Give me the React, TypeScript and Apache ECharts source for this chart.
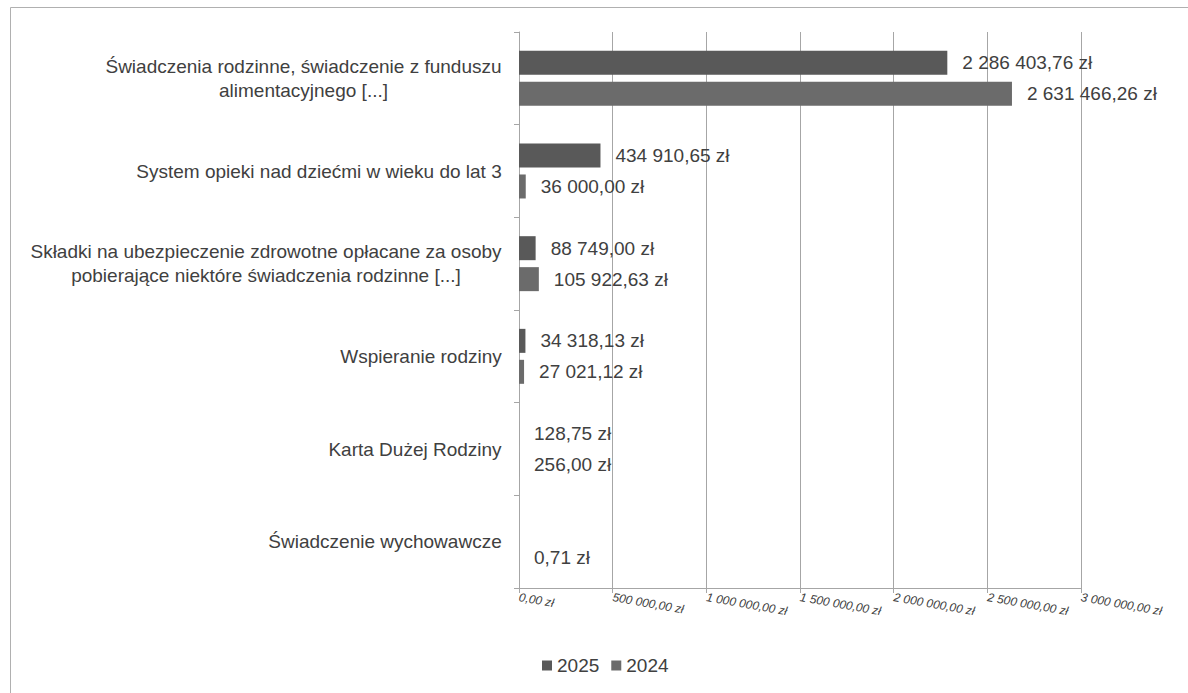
import React, { useEffect, useRef } from "react";
import * as echarts from "echarts";

const categories = [
  "Świadczenia rodzinne, świadczenie z funduszu\nalimentacyjnego [...]",
  "System opieki nad dziećmi w wieku do lat 3",
  "Składki na ubezpieczenie zdrowotne opłacane za osoby\npobierające niektóre świadczenia rodzinne [...]",
  "Wspieranie rodziny",
  "Karta Dużej Rodziny",
  "Świadczenie wychowawcze",
];
const values2025: (number | null)[] = [2286403.76, 434910.65, 88749.0, 34318.13, 128.75, null];
const values2024: (number | null)[] = [2631466.26, 36000.0, 105922.63, 27021.12, 256.0, 0.71];
const seriesNames = ["2025", "2024"];
const axisMin = 0;
const axisMax = 3000000;
const axisInterval = 500000;

function formatPLN(v: number): string {
  const fixed = Math.abs(v).toFixed(2);
  const [intPart, dec] = fixed.split(".");
  const withSep = intPart.replace(/\B(?=(\d{3})+(?!\d))/g, " ");
  return (v < 0 ? "-" : "") + withSep + "," + dec + " zł";
}

const FONT = "'Liberation Sans', Arial, Helvetica, sans-serif";
const TEXT = "#404040";
const GRID = "#a6a6a6";
const FS = 19;

function measure(text: string): number {
  const c = document.createElement("canvas").getContext("2d");
  if (!c) return text.length * FS * 0.5;
  c.font = `${FS}px ${FONT}`;
  return c.measureText(text).width;
}

export default function App() {
  const ref = useRef<HTMLDivElement>(null);
  useEffect(() => {
    if (!ref.current) return;
    const chart = echarts.init(ref.current, undefined, { renderer: "svg" });
    const rich: Record<string, any> = {};
    const labelMap: Record<string, string> = {};
    categories.forEach((cat, i) => {
      const lines = cat.split("\n");
      const w = Math.ceil(Math.max(...lines.map(measure)));
      const key = "c" + i;
      rich[key] = {
        width: w,
        align: "center",
        fontSize: FS,
        lineHeight: 24,
        fontFamily: FONT,
        color: TEXT,
      };
      labelMap[cat] = lines.map((l) => `{${key}|${l}}`).join("\n");
    });
    const labelCfg = {
      show: true,
      position: "right" as const,
      distance: 15,
      fontSize: FS,
      fontFamily: FONT,
      color: TEXT,
      formatter: (p: any) => (p.value == null ? "" : formatPLN(p.value)),
    };
    chart.setOption({
      animation: false,
      textStyle: { fontFamily: FONT },
      graphic: [
        {
          type: "rect",
          shape: { x: 10.5, y: 7.5, width: 1300, height: 800 },
          style: { fill: "none", stroke: "#b0b0b0", lineWidth: 1 },
          silent: true,
        },
      ],
      grid: { left: 519, top: 32, right: 107, bottom: 105, containLabel: false },
      legend: {
        data: seriesNames,
        left: 537,
        top: 651,
        icon: "rect",
        itemWidth: 10,
        itemHeight: 10,
        itemGap: 12,
        textStyle: { fontSize: FS, color: TEXT, fontFamily: FONT },
      },
      xAxis: {
        type: "value",
        min: axisMin,
        max: axisMax,
        interval: axisInterval,
        axisLine: { show: true, lineStyle: { color: GRID, width: 1 } },
        axisTick: { show: true, length: 5, lineStyle: { color: GRID } },
        splitLine: { show: true, lineStyle: { color: GRID, width: 1 } },
        axisLabel: {
          rotate: -10,
          margin: 9,
          fontSize: 12,
          fontStyle: "italic",
          fontFamily: FONT,
          color: TEXT,
          formatter: (v: number) => formatPLN(v),
        },
      },
      yAxis: {
        type: "category",
        inverse: true,
        data: categories,
        axisLine: { show: true, lineStyle: { color: GRID, width: 1 } },
        axisTick: { show: true, length: 5, alignWithLabel: false, lineStyle: { color: GRID } },
        splitLine: { show: false },
        axisLabel: {
          margin: 17,
          fontSize: FS,
          lineHeight: 24,
          fontFamily: FONT,
          color: TEXT,
          align: "right",
          formatter: (v: string) => labelMap[v] ?? v,
          rich,
        },
      },
      series: [
        {
          name: seriesNames[0],
          type: "bar",
          data: values2025,
          barWidth: 24,
          barGap: "29%",
          itemStyle: { color: "#595959" },
          label: labelCfg,
        },
        {
          name: seriesNames[1],
          type: "bar",
          data: values2024,
          barWidth: 24,
          barGap: "29%",
          itemStyle: { color: "#6b6b6b" },
          label: labelCfg,
        },
      ],
    });
    return () => chart.dispose();
  }, []);
  return (
    <div
      ref={ref}
      style={{ position: "absolute", left: 0, top: 0, width: 1188, height: 693, background: "#fff" }}
    />
  );
}
